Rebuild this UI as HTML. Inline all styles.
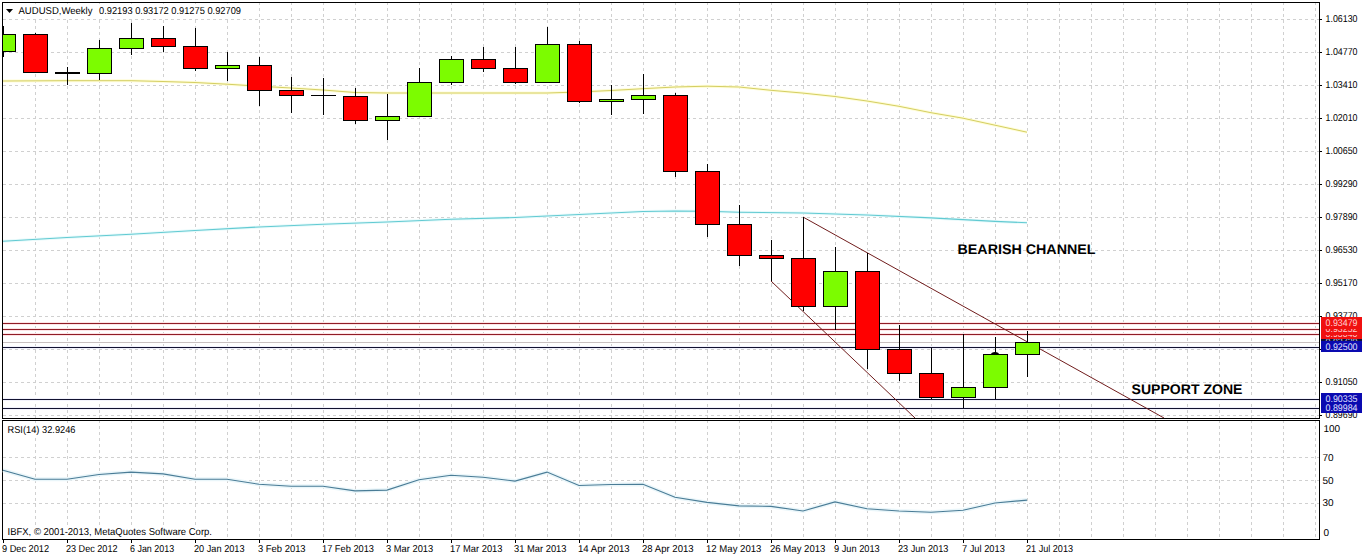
<!DOCTYPE html><html><head><meta charset="utf-8"><style>html,body{margin:0;padding:0;background:#fff;overflow:hidden}svg{display:block;text-rendering:geometricPrecision}text{font-family:"Liberation Sans",sans-serif}</style></head><body>
<svg width="1362" height="557" viewBox="0 0 1362 557">
<rect width="1362" height="557" fill="#fff"/>
<path d="M35.5 3V418 M35.5 421V539 M67.5 3V418 M67.5 421V539 M99.5 3V418 M99.5 421V539 M131.5 3V418 M131.5 421V539 M163.5 3V418 M163.5 421V539 M195.5 3V418 M195.5 421V539 M227.5 3V418 M227.5 421V539 M259.5 3V418 M259.5 421V539 M291.5 3V418 M291.5 421V539 M323.5 3V418 M323.5 421V539 M355.5 3V418 M355.5 421V539 M387.5 3V418 M387.5 421V539 M419.5 3V418 M419.5 421V539 M451.5 3V418 M451.5 421V539 M483.5 3V418 M483.5 421V539 M515.5 3V418 M515.5 421V539 M547.5 3V418 M547.5 421V539 M579.5 3V418 M579.5 421V539 M611.5 3V418 M611.5 421V539 M643.5 3V418 M643.5 421V539 M675.5 3V418 M675.5 421V539 M707.5 3V418 M707.5 421V539 M739.5 3V418 M739.5 421V539 M771.5 3V418 M771.5 421V539 M803.5 3V418 M803.5 421V539 M835.5 3V418 M835.5 421V539 M867.5 3V418 M867.5 421V539 M899.5 3V418 M899.5 421V539 M931.5 3V418 M931.5 421V539 M963.5 3V418 M963.5 421V539 M995.5 3V418 M995.5 421V539 M1027.5 3V418 M1027.5 421V539 M1059.5 3V418 M1059.5 421V539 M1091.5 3V418 M1091.5 421V539 M1123.5 3V418 M1123.5 421V539 M1155.5 3V418 M1155.5 421V539 M1187.5 3V418 M1187.5 421V539 M1219.5 3V418 M1219.5 421V539 M1251.5 3V418 M1251.5 421V539 M1283.5 3V418 M1283.5 421V539 M1315.5 3V418 M1315.5 421V539" stroke="#d0d0d0" stroke-width="1" stroke-dasharray="3 3" stroke-dashoffset="1" fill="none" shape-rendering="crispEdges"/>
<path d="M3 19.5H1319 M3 52.5H1319 M3 85.5H1319 M3 118.5H1319 M3 151.5H1319 M3 184.5H1319 M3 217.5H1319 M3 250.5H1319 M3 283.5H1319 M3 316.5H1319 M3 349.5H1319 M3 382.5H1319 M3 415.5H1319 M3 457.5H1319 M3 480.5H1319 M3 503.5H1319" stroke="#d0d0d0" stroke-width="1" stroke-dasharray="3 3" fill="none" shape-rendering="crispEdges"/>
<polyline points="3,81 67,80.7 131,80.7 163,81.5 195,82.5 227,84.2 259,86.2 291,88 323,90 355,92.5 387,93 451,93 515,93 547,93 579,92 611,90.5 643,88.7 675,87 707,86.2 739,87 771,90.3 803,93.1 835,96.5 867,101 899,106.3 931,112.7 963,118.2 995,125.2 1027,132.2" fill="none" stroke="#fffdd8" stroke-width="3"/>
<polyline points="3,81 67,80.7 131,80.7 163,81.5 195,82.5 227,84.2 259,86.2 291,88 323,90 355,92.5 387,93 451,93 515,93 547,93 579,92 611,90.5 643,88.7 675,87 707,86.2 739,87 771,90.3 803,93.1 835,96.5 867,101 899,106.3 931,112.7 963,118.2 995,125.2 1027,132.2" fill="none" stroke="#d4ce62" stroke-width="1"/>
<polyline points="3,241.2 67,237.5 131,234.2 195,230.5 259,227 323,224.2 387,222 451,219.2 515,217.5 579,214.5 643,211.5 675,211 707,211.3 739,212.2 803,213 867,215 931,217.9 995,221.4 1027,222.8" fill="none" stroke="#e8fafb" stroke-width="3"/>
<polyline points="3,241.2 67,237.5 131,234.2 195,230.5 259,227 323,224.2 387,222 451,219.2 515,217.5 579,214.5 643,211.5 675,211 707,211.3 739,212.2 803,213 867,215 931,217.9 995,221.4 1027,222.8" fill="none" stroke="#62cad2" stroke-width="1.1"/>
<rect x="3" y="322" width="1316" height="3" fill="#fde4e6"/>
<rect x="3" y="323" width="1316" height="1" fill="#901c26"/>
<rect x="3" y="328" width="1316" height="3" fill="#fde4e6"/>
<rect x="3" y="329" width="1316" height="1" fill="#901c26"/>
<rect x="3" y="333" width="1316" height="3" fill="#fde4e6"/>
<rect x="3" y="334" width="1316" height="1" fill="#901c26"/>
<rect x="3" y="342" width="1316" height="1" fill="#c8c0c0"/>
<rect x="3" y="346" width="1316" height="3" fill="#f2f2fc"/>
<rect x="3" y="398" width="1316" height="3" fill="#f2f2fc"/>
<rect x="3" y="407" width="1316" height="3" fill="#f2f2fc"/>
<rect x="3" y="347" width="1316" height="1" fill="#121230"/>
<rect x="3" y="399" width="1316" height="1" fill="#121230"/>
<rect x="3" y="408" width="1316" height="1" fill="#121230"/>
<line x1="803" y1="217" x2="1164" y2="418" stroke="#701c1c" stroke-width="1"/>
<line x1="771" y1="281" x2="915" y2="418" stroke="#701c1c" stroke-width="1"/>
<rect x="3" y="26" width="1" height="31" fill="#000"/>
<rect x="-9" y="34" width="25" height="18" fill="#000"/>
<rect x="-8" y="35" width="23" height="16" fill="#7cfc00"/>
<rect x="35" y="33" width="1" height="40" fill="#000"/>
<rect x="23" y="34" width="25" height="39" fill="#000"/>
<rect x="24" y="35" width="23" height="37" fill="#ff0000"/>
<rect x="67" y="67" width="1" height="18" fill="#000"/>
<rect x="55" y="72" width="25" height="2" fill="#000"/>
<rect x="99" y="40" width="1" height="40" fill="#000"/>
<rect x="87" y="48" width="25" height="26" fill="#000"/>
<rect x="88" y="49" width="23" height="24" fill="#7cfc00"/>
<rect x="131" y="23" width="1" height="32" fill="#000"/>
<rect x="119" y="38" width="25" height="11" fill="#000"/>
<rect x="120" y="39" width="23" height="9" fill="#7cfc00"/>
<rect x="163" y="26" width="1" height="26" fill="#000"/>
<rect x="151" y="38" width="25" height="9" fill="#000"/>
<rect x="152" y="39" width="23" height="7" fill="#ff0000"/>
<rect x="195" y="28" width="1" height="43" fill="#000"/>
<rect x="183" y="46" width="25" height="23" fill="#000"/>
<rect x="184" y="47" width="23" height="21" fill="#ff0000"/>
<rect x="227" y="52" width="1" height="29" fill="#000"/>
<rect x="215" y="65" width="25" height="4" fill="#000"/>
<rect x="216" y="66" width="23" height="2" fill="#7cfc00"/>
<rect x="259" y="57" width="1" height="49" fill="#000"/>
<rect x="247" y="65" width="25" height="26" fill="#000"/>
<rect x="248" y="66" width="23" height="24" fill="#ff0000"/>
<rect x="291" y="77" width="1" height="36" fill="#000"/>
<rect x="279" y="90" width="25" height="6" fill="#000"/>
<rect x="280" y="91" width="23" height="4" fill="#ff0000"/>
<rect x="323" y="78" width="1" height="37" fill="#000"/>
<rect x="311" y="95" width="25" height="1" fill="#000"/>
<rect x="355" y="88" width="1" height="36" fill="#000"/>
<rect x="343" y="96" width="25" height="25" fill="#000"/>
<rect x="344" y="97" width="23" height="23" fill="#ff0000"/>
<rect x="387" y="94" width="1" height="46" fill="#000"/>
<rect x="375" y="116" width="25" height="5" fill="#000"/>
<rect x="376" y="117" width="23" height="3" fill="#7cfc00"/>
<rect x="419" y="68" width="1" height="49" fill="#000"/>
<rect x="407" y="82" width="25" height="35" fill="#000"/>
<rect x="408" y="83" width="23" height="33" fill="#7cfc00"/>
<rect x="451" y="56" width="1" height="29" fill="#000"/>
<rect x="439" y="59" width="25" height="24" fill="#000"/>
<rect x="440" y="60" width="23" height="22" fill="#7cfc00"/>
<rect x="483" y="47" width="1" height="25" fill="#000"/>
<rect x="471" y="59" width="25" height="10" fill="#000"/>
<rect x="472" y="60" width="23" height="8" fill="#ff0000"/>
<rect x="515" y="47" width="1" height="37" fill="#000"/>
<rect x="503" y="68" width="25" height="15" fill="#000"/>
<rect x="504" y="69" width="23" height="13" fill="#ff0000"/>
<rect x="547" y="27" width="1" height="56" fill="#000"/>
<rect x="535" y="44" width="25" height="39" fill="#000"/>
<rect x="536" y="45" width="23" height="37" fill="#7cfc00"/>
<rect x="579" y="41" width="1" height="62" fill="#000"/>
<rect x="567" y="44" width="25" height="58" fill="#000"/>
<rect x="568" y="45" width="23" height="56" fill="#ff0000"/>
<rect x="611" y="85" width="1" height="30" fill="#000"/>
<rect x="599" y="99" width="25" height="3" fill="#000"/>
<rect x="600" y="100" width="23" height="1" fill="#7cfc00"/>
<rect x="643" y="74" width="1" height="40" fill="#000"/>
<rect x="631" y="95" width="25" height="5" fill="#000"/>
<rect x="632" y="96" width="23" height="3" fill="#7cfc00"/>
<rect x="675" y="93" width="1" height="84" fill="#000"/>
<rect x="663" y="95" width="25" height="77" fill="#000"/>
<rect x="664" y="96" width="23" height="75" fill="#ff0000"/>
<rect x="707" y="164" width="1" height="73" fill="#000"/>
<rect x="695" y="171" width="25" height="54" fill="#000"/>
<rect x="696" y="172" width="23" height="52" fill="#ff0000"/>
<rect x="739" y="205" width="1" height="61" fill="#000"/>
<rect x="727" y="224" width="25" height="32" fill="#000"/>
<rect x="728" y="225" width="23" height="30" fill="#ff0000"/>
<rect x="771" y="240" width="1" height="41" fill="#000"/>
<rect x="759" y="255" width="25" height="4" fill="#000"/>
<rect x="760" y="256" width="23" height="2" fill="#ff0000"/>
<rect x="803" y="217" width="1" height="94" fill="#000"/>
<rect x="791" y="258" width="25" height="49" fill="#000"/>
<rect x="792" y="259" width="23" height="47" fill="#ff0000"/>
<rect x="835" y="247" width="1" height="83" fill="#000"/>
<rect x="823" y="271" width="25" height="36" fill="#000"/>
<rect x="824" y="272" width="23" height="34" fill="#7cfc00"/>
<rect x="867" y="253" width="1" height="116" fill="#000"/>
<rect x="855" y="271" width="25" height="79" fill="#000"/>
<rect x="856" y="272" width="23" height="77" fill="#ff0000"/>
<rect x="899" y="325" width="1" height="56" fill="#000"/>
<rect x="887" y="349" width="25" height="25" fill="#000"/>
<rect x="888" y="350" width="23" height="23" fill="#ff0000"/>
<rect x="931" y="348" width="1" height="51" fill="#000"/>
<rect x="919" y="373" width="25" height="25" fill="#000"/>
<rect x="920" y="374" width="23" height="23" fill="#ff0000"/>
<rect x="963" y="334" width="1" height="74" fill="#000"/>
<rect x="951" y="387" width="25" height="11" fill="#000"/>
<rect x="952" y="388" width="23" height="9" fill="#7cfc00"/>
<rect x="995" y="337" width="1" height="62" fill="#000"/>
<rect x="983" y="354" width="25" height="34" fill="#000"/>
<rect x="984" y="355" width="23" height="32" fill="#7cfc00"/>
<rect x="1027" y="331" width="1" height="46" fill="#000"/>
<rect x="1015" y="342" width="25" height="13" fill="#000"/>
<rect x="1016" y="343" width="23" height="11" fill="#7cfc00"/>
<path d="M991 354.5a4 2.6 0 0 1 8 0z" fill="#000"/>
<rect x="0" y="0" width="2" height="557" fill="#fff"/>
<rect x="2.5" y="2.5" width="1317" height="416" fill="none" stroke="#000" stroke-width="1"/>
<rect x="2.5" y="420.5" width="1317" height="119" fill="none" stroke="#000" stroke-width="1"/>
<rect x="3" y="4" width="239" height="13" fill="#fff"/>
<path d="M6 9h7l-3.5 4z" fill="#000"/>
<text x="18.5" y="14" font-size="10" fill="#000" textLength="74" lengthAdjust="spacingAndGlyphs">AUDUSD,Weekly</text>
<text x="99" y="14" font-size="10" fill="#000" textLength="142" lengthAdjust="spacingAndGlyphs">0.92193 0.93172 0.91275 0.92709</text>
<text x="957.5" y="254" font-size="14" font-weight="bold" fill="#000" textLength="138" lengthAdjust="spacingAndGlyphs">BEARISH CHANNEL</text>
<text x="1131.5" y="393.5" font-size="14" font-weight="bold" fill="#000" textLength="111" lengthAdjust="spacingAndGlyphs">SUPPORT ZONE</text>
<rect x="1320" y="19" width="2" height="1" fill="#000"/>
<text x="1325.5" y="22" font-size="10" fill="#000" textLength="32" lengthAdjust="spacingAndGlyphs">1.06130</text>
<rect x="1320" y="52" width="2" height="1" fill="#000"/>
<text x="1325.5" y="55" font-size="10" fill="#000" textLength="32" lengthAdjust="spacingAndGlyphs">1.04770</text>
<rect x="1320" y="85" width="2" height="1" fill="#000"/>
<text x="1325.5" y="88" font-size="10" fill="#000" textLength="32" lengthAdjust="spacingAndGlyphs">1.03410</text>
<rect x="1320" y="118" width="2" height="1" fill="#000"/>
<text x="1325.5" y="121" font-size="10" fill="#000" textLength="32" lengthAdjust="spacingAndGlyphs">1.02010</text>
<rect x="1320" y="151" width="2" height="1" fill="#000"/>
<text x="1325.5" y="154" font-size="10" fill="#000" textLength="32" lengthAdjust="spacingAndGlyphs">1.00650</text>
<rect x="1320" y="184" width="2" height="1" fill="#000"/>
<text x="1325.5" y="187" font-size="10" fill="#000" textLength="32" lengthAdjust="spacingAndGlyphs">0.99290</text>
<rect x="1320" y="217" width="2" height="1" fill="#000"/>
<text x="1325.5" y="220" font-size="10" fill="#000" textLength="32" lengthAdjust="spacingAndGlyphs">0.97890</text>
<rect x="1320" y="250" width="2" height="1" fill="#000"/>
<text x="1325.5" y="253" font-size="10" fill="#000" textLength="32" lengthAdjust="spacingAndGlyphs">0.96530</text>
<rect x="1320" y="283" width="2" height="1" fill="#000"/>
<text x="1325.5" y="286" font-size="10" fill="#000" textLength="32" lengthAdjust="spacingAndGlyphs">0.95170</text>
<rect x="1320" y="316" width="2" height="1" fill="#000"/>
<text x="1325.5" y="319" font-size="10" fill="#000" textLength="32" lengthAdjust="spacingAndGlyphs">0.93770</text>
<rect x="1320" y="349" width="2" height="1" fill="#000"/>
<rect x="1320" y="382" width="2" height="1" fill="#000"/>
<text x="1325.5" y="385" font-size="10" fill="#000" textLength="32" lengthAdjust="spacingAndGlyphs">0.91050</text>
<rect x="1320" y="415" width="2" height="1" fill="#000"/>
<text x="1325.5" y="418" font-size="10" fill="#000" textLength="32" lengthAdjust="spacingAndGlyphs">0.89690</text>
<rect x="1321" y="336" width="41" height="12" fill="#101038"/>
<text x="1325.5" y="345" font-size="9.6" fill="#c8c8e0" textLength="32" lengthAdjust="spacingAndGlyphs">0.92720</text>
<rect x="1321" y="328" width="41" height="11" fill="#f01010"/>
<text x="1325.5" y="337" font-size="9.6" fill="#ffd0d0" textLength="32" lengthAdjust="spacingAndGlyphs">0.93040</text>
<rect x="1321" y="323" width="41" height="12" fill="#f01010"/>
<text x="1325.5" y="332" font-size="9.6" fill="#ffd0d0" textLength="32" lengthAdjust="spacingAndGlyphs">0.93252</text>
<rect x="1321" y="317" width="41" height="12" fill="#f01010"/>
<text x="1325.5" y="326" font-size="9.6" fill="#ffd0d0" textLength="32" lengthAdjust="spacingAndGlyphs">0.93479</text>
<rect x="1321" y="341" width="41" height="11" fill="#0a0ab0"/>
<text x="1325.5" y="350" font-size="9.6" fill="#e0e0ff" textLength="32" lengthAdjust="spacingAndGlyphs">0.92500</text>
<rect x="1321" y="393" width="41" height="12" fill="#0a0ab0"/>
<text x="1325.5" y="402" font-size="9.6" fill="#e0e0ff" textLength="32" lengthAdjust="spacingAndGlyphs">0.90335</text>
<rect x="1321" y="402" width="41" height="11" fill="#0a0ab0"/>
<text x="1325.5" y="411" font-size="9.6" fill="#e0e0ff" textLength="32" lengthAdjust="spacingAndGlyphs">0.89984</text>
<rect x="3" y="424" width="74" height="13" fill="#fff"/>
<text x="7.5" y="433" font-size="10" fill="#000" textLength="68" lengthAdjust="spacingAndGlyphs">RSI(14) 32.9246</text>
<polyline points="3,470.3 35,479.3 67,479.3 99,474.5 131,472.1 163,473.9 195,479.3 227,479.3 259,484.2 291,486.3 323,486.3 355,490.9 387,490.1 419,479.8 451,475.2 483,477.3 515,481.1 547,472.1 579,485.5 611,484.5 643,484.2 675,497.3 707,502.4 739,505.9 771,506.4 803,511 835,501.9 867,508.7 899,511 931,512.2 963,510.2 995,503 1027,500.1" fill="none" stroke="#eaf6fa" stroke-width="4"/>
<polyline points="3,470.3 35,479.3 67,479.3 99,474.5 131,472.1 163,473.9 195,479.3 227,479.3 259,484.2 291,486.3 323,486.3 355,490.9 387,490.1 419,479.8 451,475.2 483,477.3 515,481.1 547,472.1 579,485.5 611,484.5 643,484.2 675,497.3 707,502.4 739,505.9 771,506.4 803,511 835,501.9 867,508.7 899,511 931,512.2 963,510.2 995,503 1027,500.1" fill="none" stroke="#4a7c96" stroke-width="1.1"/>
<rect x="3" y="525" width="210" height="13" fill="#fff"/>
<text x="7.5" y="535" font-size="10" fill="#000" textLength="204.5" lengthAdjust="spacingAndGlyphs">IBFX, © 2001-2013, MetaQuotes Software Corp.</text>
<text x="1323.5" y="431.5" font-size="10" fill="#000">100</text>
<text x="1322.5" y="461" font-size="10" fill="#000">70</text>
<text x="1322.5" y="484" font-size="10" fill="#000">50</text>
<text x="1322.5" y="506" font-size="10" fill="#000">30</text>
<text x="1323.5" y="536" font-size="10" fill="#000">0</text>
<rect x="3" y="539" width="1" height="4" fill="#000"/>
<text x="2" y="552" font-size="10" fill="#000" textLength="47.1" lengthAdjust="spacingAndGlyphs">9 Dec 2012</text>
<rect x="67" y="539" width="1" height="4" fill="#000"/>
<text x="66" y="552" font-size="10" fill="#000" textLength="51.5" lengthAdjust="spacingAndGlyphs">23 Dec 2012</text>
<rect x="131" y="539" width="1" height="4" fill="#000"/>
<text x="130" y="552" font-size="10" fill="#000" textLength="44.1" lengthAdjust="spacingAndGlyphs">6 Jan 2013</text>
<rect x="195" y="539" width="1" height="4" fill="#000"/>
<text x="194" y="552" font-size="10" fill="#000" textLength="50.6" lengthAdjust="spacingAndGlyphs">20 Jan 2013</text>
<rect x="259" y="539" width="1" height="4" fill="#000"/>
<text x="258" y="552" font-size="10" fill="#000" textLength="47.6" lengthAdjust="spacingAndGlyphs">3 Feb 2013</text>
<rect x="323" y="539" width="1" height="4" fill="#000"/>
<text x="322" y="552" font-size="10" fill="#000" textLength="52.0" lengthAdjust="spacingAndGlyphs">17 Feb 2013</text>
<rect x="387" y="539" width="1" height="4" fill="#000"/>
<text x="386" y="552" font-size="10" fill="#000" textLength="47.2" lengthAdjust="spacingAndGlyphs">3 Mar 2013</text>
<rect x="451" y="539" width="1" height="4" fill="#000"/>
<text x="450" y="552" font-size="10" fill="#000" textLength="52.5" lengthAdjust="spacingAndGlyphs">17 Mar 2013</text>
<rect x="515" y="539" width="1" height="4" fill="#000"/>
<text x="514" y="552" font-size="10" fill="#000" textLength="52.5" lengthAdjust="spacingAndGlyphs">31 Mar 2013</text>
<rect x="579" y="539" width="1" height="4" fill="#000"/>
<text x="578" y="552" font-size="10" fill="#000" textLength="51.6" lengthAdjust="spacingAndGlyphs">14 Apr 2013</text>
<rect x="643" y="539" width="1" height="4" fill="#000"/>
<text x="642" y="552" font-size="10" fill="#000" textLength="51.6" lengthAdjust="spacingAndGlyphs">28 Apr 2013</text>
<rect x="707" y="539" width="1" height="4" fill="#000"/>
<text x="706" y="552" font-size="10" fill="#000" textLength="55.4" lengthAdjust="spacingAndGlyphs">12 May 2013</text>
<rect x="771" y="539" width="1" height="4" fill="#000"/>
<text x="770" y="552" font-size="10" fill="#000" textLength="55.4" lengthAdjust="spacingAndGlyphs">26 May 2013</text>
<rect x="835" y="539" width="1" height="4" fill="#000"/>
<text x="834" y="552" font-size="10" fill="#000" textLength="45.7" lengthAdjust="spacingAndGlyphs">9 Jun 2013</text>
<rect x="899" y="539" width="1" height="4" fill="#000"/>
<text x="898" y="552" font-size="10" fill="#000" textLength="50.3" lengthAdjust="spacingAndGlyphs">23 Jun 2013</text>
<rect x="963" y="539" width="1" height="4" fill="#000"/>
<text x="962" y="552" font-size="10" fill="#000" textLength="42.8" lengthAdjust="spacingAndGlyphs">7 Jul 2013</text>
<rect x="1027" y="539" width="1" height="4" fill="#000"/>
<text x="1026" y="552" font-size="10" fill="#000" textLength="47.0" lengthAdjust="spacingAndGlyphs">21 Jul 2013</text>
</svg></body></html>
